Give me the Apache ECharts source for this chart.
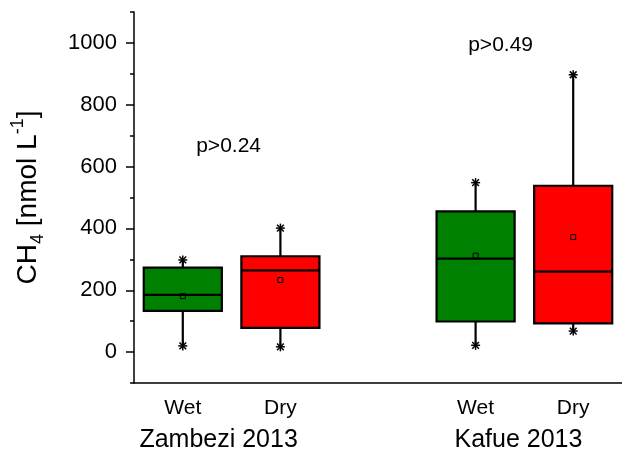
<!DOCTYPE html>
<html>
<head>
<meta charset="utf-8">
<script src="https://cdn.jsdelivr.net/npm/echarts@6/dist/echarts.min.js"></script>
<style>
  html, body { margin: 0; padding: 0; background: #ffffff; }
  #chart { width: 622px; height: 454px; }
</style>
</head>
<body>
<div id="chart"></div>
<script>
// Categories along the x axis; the empty slot separates the two rivers.
const categories = ['Wet', 'Dry', '', 'Wet', 'Dry'];
const groupNames = ['Zambezi 2013', 'Kafue 2013'];
const pValues = ['p>0.24', 'p>0.49'];

// CH4 concentration statistics [nmol L-1] per category (null = spacer).
const whiskerLow  = [20, 17, null, 22, 68];
const quartile1   = [133, 78, null, 99, 93];
const medianVal   = [185, 264, null, 302, 260];
const quartile3   = [273, 310, null, 455, 538];
const whiskerHigh = [298, 401, null, 548, 897];
const meanVal     = [181, 233, null, 312, 372];

const yMajorTicks = [0, 200, 400, 600, 800, 1000];
const yMinorTicks = [-100, 100, 300, 500, 700, 900, 1100];

const FONT = '"Liberation Sans", Arial, Helvetica, sans-serif';
const seasonColor = { Wet: '#008000', Dry: '#ff0000' };

const boxData = [];
categories.forEach((c, i) => {
  if (whiskerLow[i] == null) return;
  boxData.push([i, whiskerLow[i], quartile1[i], medianVal[i], quartile3[i], whiskerHigh[i], meanVal[i]]);
});

// Asterisk marking the whisker ends.
function star(cx, cy) {
  const s = 4.5;
  const d = s * 0.75;
  const st = { stroke: '#000', lineWidth: 1.5 };
  return [
    { type: 'line', shape: { x1: cx - s, y1: cy, x2: cx + s, y2: cy }, style: st },
    { type: 'line', shape: { x1: cx - d, y1: cy - d, x2: cx + d, y2: cy + d }, style: st },
    { type: 'line', shape: { x1: cx - d, y1: cy + d, x2: cx + d, y2: cy - d }, style: st },
    { type: 'line', shape: { x1: cx, y1: cy - s, x2: cx, y2: cy + s }, style: st }
  ];
}

function renderBox(params, api) {
  const idx = api.value(0);
  const pLow = api.coord([idx, api.value(1)]);
  const pQ1 = api.coord([idx, api.value(2)]);
  const pMed = api.coord([idx, api.value(3)]);
  const pQ3 = api.coord([idx, api.value(4)]);
  const pHigh = api.coord([idx, api.value(5)]);
  const pMean = api.coord([idx, api.value(6)]);
  const x = pQ1[0];
  const w = api.size([1, 0])[0] * 0.8;
  const fill = seasonColor[categories[idx]];
  const line = { stroke: '#000', lineWidth: 2.2 };
  const children = [
    { type: 'line', shape: { x1: x, y1: pLow[1], x2: x, y2: pQ1[1] }, style: line },
    { type: 'line', shape: { x1: x, y1: pQ3[1], x2: x, y2: pHigh[1] }, style: line },
    { type: 'rect', shape: { x: x - w / 2, y: pQ3[1], width: w, height: pQ1[1] - pQ3[1] },
      style: { fill: fill, stroke: '#000', lineWidth: 2.2 } },
    { type: 'line', shape: { x1: x - w / 2, y1: pMed[1], x2: x + w / 2, y2: pMed[1] }, style: line },
    { type: 'rect', shape: { x: x - 2.5, y: pMean[1] - 2.5, width: 5, height: 5 },
      style: { fill: 'none', stroke: '#000', lineWidth: 1 } }
  ].concat(star(x, pLow[1]), star(x, pHigh[1]));
  return { type: 'group', children: children };
}

const chart = echarts.init(document.getElementById('chart'), null, { renderer: 'canvas' });

const axisLineStyle = { color: '#000', width: 1.5 };

chart.setOption({
  animation: false,
  backgroundColor: '#ffffff',
  grid: { left: 134, right: -3, top: 12, bottom: 71, containLabel: false },
  xAxis: {
    type: 'category',
    data: categories,
    boundaryGap: true,
    axisLine: { onZero: false, lineStyle: axisLineStyle },
    axisTick: { alignWithLabel: true, interval: 0, length: 6, lineStyle: { color: '#000', width: 1.5 } },
    axisLabel: { interval: 0, color: '#000', fontSize: 21, fontFamily: FONT, margin: 15 },
    splitLine: { show: false }
  },
  yAxis: [{
    type: 'value',
    min: -100,
    max: 1100,
    axisLine: { show: true, lineStyle: axisLineStyle },
    axisTick: { show: true, length: 8, customValues: yMajorTicks, lineStyle: { color: '#000', width: 1.5 } },
    axisLabel: {
      color: '#000', fontSize: 22, fontFamily: FONT, margin: 17,
      customValues: yMajorTicks,
      formatter: (v) => String(v)
    },
    splitLine: { show: false },
    name: '{a|CH}{s|4}{a| [nmol L}{p|-1}{a|]}',
    nameLocation: 'middle',
    nameRotate: 90,
    nameGap: 87,
    nameTextStyle: {
      color: '#000',
      fontFamily: FONT,
      rich: {
        a: { fontSize: 28, lineHeight: 38, fontFamily: FONT, color: '#000' },
        s: { fontSize: 18, lineHeight: 18, verticalAlign: 'bottom', fontFamily: FONT, color: '#000' },
        p: { fontSize: 18, lineHeight: 18, verticalAlign: 'top', fontFamily: FONT, color: '#000' }
      }
    }
  }, {
    type: 'value',
    min: -100,
    max: 1100,
    position: 'left',
    axisLine: { show: false },
    axisTick: { show: true, length: 4, customValues: yMinorTicks, lineStyle: { color: '#000', width: 1.5 } },
    axisLabel: { show: false },
    splitLine: { show: false }
  }],
  series: [{
    type: 'custom',
    renderItem: renderBox,
    data: boxData,
    encode: { x: 0, y: [1, 2, 3, 4, 5, 6] },
    z: 3
  }]
});

// Group names under the season labels, and p-value annotations above the boxes.
function placeText() {
  const toPx = (ix, v) => chart.convertToPixel({ gridIndex: 0 }, [ix, v]);
  const base = toPx(0, -100)[1];
  const g1 = (toPx(0, 0)[0] + toPx(1, 0)[0]) / 2 - 13;
  const g2 = (toPx(3, 0)[0] + toPx(4, 0)[0]) / 2 - 6;
  const p1 = toPx(0, 667);
  const p2 = toPx(3, 993);
  const textEl = (t, x, y, size) => ({
    type: 'text', x: x, y: y,
    style: { text: t, fill: '#000', font: size + 'px ' + FONT, textAlign: 'center', textVerticalAlign: 'middle' }
  });
  chart.setOption({
    graphic: [
      textEl(groupNames[0], g1, base + 57, 25),
      textEl(groupNames[1], g2, base + 57, 25),
      textEl(pValues[0], (p1[0] + toPx(1, 0)[0]) / 2 - 3, p1[1], 21),
      textEl(pValues[1], p2[0] + 25, p2[1], 21)
    ]
  });
}
placeText();
</script>
</body>
</html>
